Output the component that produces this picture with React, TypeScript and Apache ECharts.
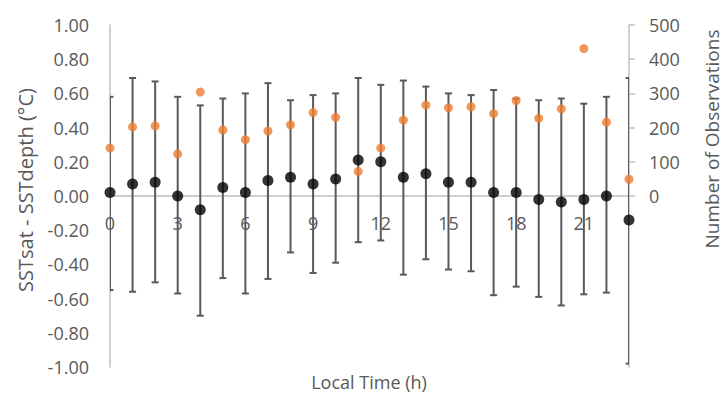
import React, { useEffect, useRef } from "react";
import * as echarts from "echarts";

const hours = [0, 1, 2, 3, 4, 5, 6, 7, 8, 9, 10, 11, 12, 13, 14, 15, 16, 17, 18, 19, 20, 21, 22, 23];
const meanDiff = [0.02, 0.07, 0.08, 0.0, -0.08, 0.05, 0.02, 0.09, 0.11, 0.07, 0.1, 0.21, 0.2, 0.11, 0.13, 0.08, 0.08, 0.02, 0.02, -0.02, -0.035, -0.02, 0.0, -0.14];
const errHigh = [0.58, 0.69, 0.67, 0.58, 0.53, 0.57, 0.6, 0.66, 0.56, 0.59, 0.6, 0.69, 0.65, 0.675, 0.64, 0.6, 0.59, 0.62, 0.57, 0.56, 0.57, 0.54, 0.58, 0.69];
const errLow = [-0.55, -0.56, -0.505, -0.57, -0.7, -0.48, -0.57, -0.485, -0.33, -0.45, -0.39, -0.27, -0.26, -0.46, -0.37, -0.43, -0.44, -0.58, -0.53, -0.59, -0.64, -0.575, -0.565, -0.98];
const observations = [140, 202, 205, 123, 304, 193, 165, 190, 208, 244, 230, 72, 140, 222, 266, 258, 261, 241, 279, 227, 255, 431, 216, 49];

const xTitle = "Local Time (h)";
const yLeftTitle = "SSTsat - SSTdepth (°C)";
const yRightTitle = "Number of Observations";

const FONT = "'Open Sans', 'DejaVu Sans', sans-serif";
const TXT = "#595959";
const AXIS = "#BFBFBF";
const GRID_TOP = 25;
const GRID_BOTTOM = 30;
const GRID_LEFT = 110;
const GRID_RIGHT = 95;
const CHART_H = 397;

export default function App() {
  const ref = useRef<HTMLDivElement>(null);
  useEffect(() => {
    document.body.style.margin = "0";
    if (!ref.current) return;
    const chart = echarts.init(ref.current, null, { renderer: "svg" });
    const errData = hours.map((h, i) => [h, errLow[i], errHigh[i]]);
    const gridH = CHART_H - GRID_TOP - GRID_BOTTOM;
    chart.setOption({
      animation: false,
      backgroundColor: "#ffffff",
      textStyle: { fontFamily: FONT },
      grid: [
        { left: GRID_LEFT, right: GRID_RIGHT, top: GRID_TOP, bottom: GRID_BOTTOM, containLabel: false },
        { left: GRID_LEFT, right: GRID_RIGHT, top: GRID_TOP, height: gridH / 2, containLabel: false },
      ],
      xAxis: [
        {
          type: "value",
          gridIndex: 0,
          position: "bottom",
          offset: -gridH / 2,
          min: 0,
          max: 23,
          interval: 3,
          axisLine: { show: true, onZero: false, lineStyle: { color: AXIS, width: 1.5 } },
          axisTick: { show: false },
          splitLine: { show: false },
          axisLabel: {
            color: TXT,
            fontSize: 18,
            fontFamily: FONT,
            margin: 18,
            formatter: (v: number) => (v % 3 === 0 ? String(v) : ""),
          },
        },
        {
          type: "value",
          gridIndex: 1,
          min: 0,
          max: 23,
          show: false,
        },
      ],
      yAxis: [
        {
          type: "value",
          gridIndex: 0,
          min: -1,
          max: 1,
          interval: 0.2,
          axisLine: { show: true, onZero: false, lineStyle: { color: AXIS, width: 1.5 } },
          axisTick: { show: false },
          splitLine: { show: false },
          axisLabel: {
            color: TXT,
            fontSize: 18,
            fontFamily: FONT,
            margin: 21,
            formatter: (v: number) => v.toFixed(2),
          },
        },
        {
          type: "value",
          gridIndex: 0,
          position: "right",
          min: -500,
          max: 500,
          interval: 100,
          axisLine: { show: true, onZero: false, lineStyle: { color: AXIS, width: 1.5 } },
          axisTick: { show: false },
          splitLine: { show: false },
          axisLabel: { show: false },
        },
        {
          type: "value",
          gridIndex: 1,
          position: "right",
          min: 0,
          max: 500,
          interval: 100,
          axisLine: { show: false, onZero: false },
          axisTick: { show: true, inside: false, length: 6, lineStyle: { color: AXIS, width: 1.5 } },
          splitLine: { show: false },
          axisLabel: {
            color: TXT,
            fontSize: 18,
            fontFamily: FONT,
            margin: 20,
          },
        },
      ],
      graphic: [
        {
          type: "text",
          x: 369,
          y: 382,
          style: { text: xTitle, fill: TXT, font: `18px ${FONT}`, align: "center", verticalAlign: "middle" },
        },
        {
          type: "text",
          x: 25,
          y: 190,
          rotation: Math.PI / 2,
          style: { text: yLeftTitle, fill: TXT, font: `20px ${FONT}`, align: "center", verticalAlign: "middle" },
        },
        {
          type: "text",
          x: 712,
          y: 139,
          rotation: Math.PI / 2,
          style: { text: yRightTitle, fill: TXT, font: `19px ${FONT}`, align: "center", verticalAlign: "middle" },
        },
      ],
      series: [
        {
          type: "custom",
          xAxisIndex: 0,
          yAxisIndex: 0,
          clip: true,
          data: errData,
          encode: { x: 0, y: [1, 2] },
          z: 1,
          renderItem: (params: any, api: any) => {
            const x = api.value(0);
            const lo = api.value(1);
            const hi = api.value(2);
            const pHi = api.coord([x, hi]);
            const pLo = api.coord([x, lo]);
            const w = 3.5;
            const style = { stroke: "#595959", lineWidth: 2, fill: null };
            return {
              type: "group",
              children: [
                { type: "line", shape: { x1: pHi[0], y1: pHi[1], x2: pLo[0], y2: pLo[1] }, style },
                { type: "line", shape: { x1: pHi[0] - w, y1: pHi[1], x2: pHi[0] + w, y2: pHi[1] }, style },
                { type: "line", shape: { x1: pLo[0] - w, y1: pLo[1], x2: pLo[0] + w, y2: pLo[1] }, style },
              ],
            };
          },
        },
        {
          type: "scatter",
          name: "SSTsat - SSTdepth",
          xAxisIndex: 0,
          yAxisIndex: 0,
          clip: false,
          symbol: "circle",
          symbolSize: 11,
          itemStyle: { color: "#000000" },
          data: hours.map((h, i) => [h, meanDiff[i]]),
          z: 3,
        },
        {
          type: "scatter",
          name: "Number of Observations",
          xAxisIndex: 0,
          yAxisIndex: 1,
          clip: false,
          symbol: "circle",
          symbolSize: 9,
          itemStyle: { color: "#ED7D31" },
          data: hours.map((h, i) => [h, observations[i]]),
          z: 4,
        },
      ],
    });
    return () => chart.dispose();
  }, []);
  return <div ref={ref} style={{ width: 724, height: 397 }} />;
}
